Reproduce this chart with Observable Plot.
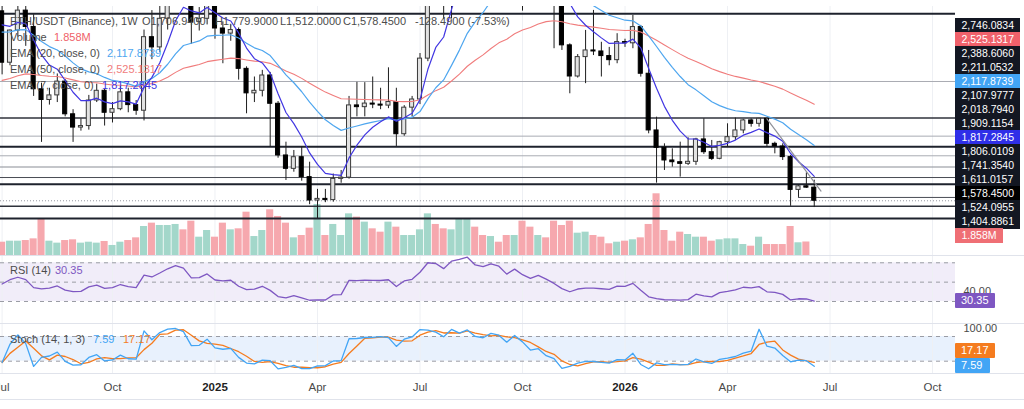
<!DOCTYPE html>
<html>
<head>
<meta charset="utf-8">
<script src="https://cdn.jsdelivr.net/npm/d3@7"></script>
<script src="https://cdn.jsdelivr.net/npm/@observablehq/plot@0.6"></script>
<style>
  html, body { margin: 0; padding: 0; background: #fff; }
  #chart { position: relative; width: 1024px; height: 409px; overflow: hidden; background: #fff;
           font-family: "Liberation Sans", Arial, sans-serif; }
  #chart svg { position: absolute; }
  .lg { position: absolute; font-size: 11px; line-height: 13px; white-space: pre; color: #4c4c4c; }
  .sep { position: absolute; left: 0; width: 1024px; height: 1px; background: #e0e3eb; }
  .vbox { position: absolute; left: 955px; height: 15px; line-height: 15px; font-size: 11px; color: #fff;
          padding-left: 6px; box-sizing: border-box; border-radius: 1px; }
</style>
</head>
<body>
<div id="chart"></div>
<script>
// ---------------- DATA ----------------
const weeks = [
  "2024-07-01","2024-07-08","2024-07-15","2024-07-22","2024-07-29","2024-08-05","2024-08-12","2024-08-19","2024-08-26","2024-09-02",
  "2024-09-09","2024-09-16","2024-09-23","2024-09-30","2024-10-07","2024-10-14","2024-10-21","2024-10-28","2024-11-04","2024-11-11",
  "2024-11-18","2024-11-25","2024-12-02","2024-12-09","2024-12-16","2024-12-23","2024-12-30","2025-01-06","2025-01-13","2025-01-20",
  "2025-01-27","2025-02-03","2025-02-10","2025-02-17","2025-02-24","2025-03-03","2025-03-10","2025-03-17","2025-03-24","2025-03-31",
  "2025-04-07","2025-04-14","2025-04-21","2025-04-28","2025-05-05","2025-05-12","2025-05-19","2025-05-26","2025-06-02","2025-06-09",
  "2025-06-16","2025-06-23","2025-06-30","2025-07-07","2025-07-14","2025-07-21","2025-07-28","2025-08-04","2025-08-11","2025-08-18",
  "2025-08-25","2025-09-01","2025-09-08","2025-09-15","2025-09-22","2025-09-29","2025-10-06","2025-10-13","2025-10-20","2025-10-27",
  "2025-11-03","2025-11-10","2025-11-17","2025-11-24","2025-12-01","2025-12-08","2025-12-15","2025-12-22","2025-12-29","2026-01-05",
  "2026-01-12","2026-01-19","2026-01-26","2026-02-02","2026-02-09","2026-02-16","2026-02-23","2026-03-02","2026-03-09","2026-03-16",
  "2026-03-23","2026-03-30","2026-04-06","2026-04-13","2026-04-20","2026-04-27","2026-05-04","2026-05-11","2026-05-18","2026-05-25",
  "2026-06-01","2026-06-08","2026-06-15","2026-06-22"
];
const open = [
  3433,2930,3245,3440,3280,2670,2565,2610,2745,2425,
  2295,2310,2560,2655,2440,2475,2640,2515,2460,3180,
  3080,3360,3705,3990,3870,3330,3360,3630,3265,3215,
  3250,2870,2630,2655,2805,2528,2022,1891,2005,1810,
  1581,1597,1585,1793,1805,2512,2495,2530,2520,2510,
  2545,2230,2490,2570,2970,3755,3720,3490,4260,4470,
  4780,4390,4300,4600,4480,4030,4510,4150,3890,4160,
  3890,3560,3100,2795,2985,3050,3040,2995,2955,3132,
  3120,3279,2822,2267,2097,1973,1956,1940,1960,2179,
  2054,1989,2152,2201,2267,2365,2332,2381,2136,2110,
  2006,1685,1720,1706.94
];
const high = [
  3520,3250,3560,3560,3400,2730,2680,2820,2765,2470,
  2380,2610,2720,2670,2540,2700,2680,2560,3250,3440,
  3500,3740,4000,4010,4105,3470,3745,3700,3330,3300,
  3270,2890,2790,2855,2835,2550,2152,2071,2104,1956,
  1690,1690,1840,1875,2600,2738,2735,2790,2680,2880,
  2680,2510,2600,3020,3860,3940,3940,4330,4790,4890,
  4955,4490,4770,4770,4480,4590,4755,4290,4250,4250,
  3920,3650,3115,3010,3246,3442,3130,3080,3214,3160,
  3393,3295,3050,2397,2136,2087,2152,2195,2190,2381,
  2169,2160,2332,2388.606,2375,2380,2385,2386,2152,2136,
  2022,1734,1852,1779.9
];
const low = [
  2811,2900,3180,3090,2600,2150,2515,2540,2400,2150,
  2260,2270,2540,2310,2340,2460,2440,2415,2360,2960,
  3030,3250,3500,3520,3110,3240,3300,3160,2920,3140,
  2760,2430,2540,2595,2104,1995,1777,1858,1770,1540,
  1404.886,1560,1565,1750,1790,2400,2400,2480,2470,2480,
  2110,2210,2400,2520,2940,3500,3355,3360,4190,4060,
  4260,4200,4290,4450,3815,4000,3435,3680,3700,3680,
  3067,3050,2626,2780,2725,3000,2790,2900,2920,3080,
  3067,2789,2234,1751,1875,1908,1810,1924,1925,2032,
  1973,1980,2103,2169,2234,2299,2299,2103,2038,1973,
  1524.096,1611.016,1700,1512
];
const close = [
  2930,3245,3440,3280,2670,2565,2610,2745,2425,2295,
  2310,2560,2655,2440,2475,2640,2515,2460,3180,3080,
  3360,3705,3990,3870,3330,3360,3630,3265,3215,3250,
  2870,2630,2655,2805,2528,2022,1891,2005,1810,1581,
  1597,1585,1793,1805,2512,2495,2530,2520,2510,2545,
  2230,2490,2570,2970,3755,3720,3490,4260,4470,4780,
  4390,4300,4600,4480,4030,4510,4150,3890,4160,3890,
  3560,3100,2795,2985,3050,3040,2995,2955,3132,3120,
  3279,2822,2267,2097,1973,1956,1940,1960,2179,2054,
  1989,2152,2201,2267,2365,2332,2381,2136,2110,2006,
  1685,1720,1706.94,1578.45
];
// weekly volume, millions
const volume = [
  1.83,1.97,1.97,2.06,2.29,5.05,1.97,1.70,2.06,2.16,
  1.70,1.83,1.70,1.93,1.38,1.83,2.06,2.43,3.99,4.45,
  4.13,4.13,4.27,3.53,4.72,2.52,3.44,2.52,4.45,3.53,
  3.67,5.96,2.61,3.44,6.29,5.37,4.45,2.43,2.75,3.76,
  7.02,2.75,4.27,2.75,5.73,5.28,4.59,3.67,3.21,4.59,
  3.90,2.75,2.75,3.53,5.73,4.27,3.67,3.53,5.05,5.05,
  3.90,2.75,2.61,1.83,2.75,2.75,4.72,3.90,2.75,2.43,
  4.72,4.13,4.72,3.07,3.21,2.75,2.52,1.61,1.83,1.97,
  2.16,2.43,4.27,8.49,3.44,1.97,3.21,2.89,2.52,2.52,
  1.97,2.16,2.29,2.29,1.51,1.28,2.52,1.51,1.51,1.51,
  3.99,1.75,1.858,null
];
// horizontal levels drawn on the chart
const levelPrices = [3409.7, 2746.0834, 2388.6060, 2211.0532, 2107.9777, 2018.7940, 1909.1154, 1806.0109, 1741.3540, 1524.0955, 1404.8861];
const partialLevel = {price: 1611.0157, from: "2026-06-08"};
const currentPrice = 1578.45;
// trend line (two anchor points)
const trendPoints = [{date: "2026-05-11", price: 2381}, {date: "2026-06-28", price: 1673}];
// indicator seeds read at the first bar
const ema7Seed = 3300, ema20Seed = 3230, ema50Seed = 2757;
const rsiSeedGain = 125, rsiSeedLoss = 135;
// right-hand price tags, top to bottom
const tagTexts = ["2,746.0834","2,525.1317","2,388.6060","2,211.0532","2,117.8739","2,107.9777","2,018.7940","1,909.1154",
                  "1,817.2845","1,806.0109","1,741.3540","1,611.0157","1,578.4500","1,524.0955","1,404.8861","1.858M"];
// time axis
const tickWeeks = ["2024-07-01","2024-10-07","2025-01-06","2025-04-07","2025-07-07","2025-10-06","2026-01-05","2026-04-06","2026-07-06","2026-10-05"];
const tickLabels = ["Jul","Oct","2025","Apr","Jul","Oct","2026","Apr","Jul","Oct"];
// legend values
const legendOHLC = ["O1,706.9400","H1,779.9000","L1,512.0000","C1,578.4500","-128.4900 (-7.53%)"];
const rsiValue = 30.35, stochK = 7.59, stochD = 17.17;

// ---------------- STYLE ----------------
const tagColors = ["#131722","#f0616b","#131722","#131722","#42a5f5","#131722","#131722","#131722",
                   "#2f2fe8","#131722","#131722","#131722","#000000","#131722","#131722","#ef6f75"];
const levelStyle = ["thick","thin","medium","thin","thick","thin","mid","dark","thick","medium","thick"];
const styleMap = {
  thick: {stroke: "#1e222d", strokeWidth: 2},
  medium: {stroke: "#2f323b", strokeWidth: 1.5},
  dark: {stroke: "#4a4d55", strokeWidth: 1},
  mid: {stroke: "#8a8d95", strokeWidth: 1.2},
  thin: {stroke: "#a9acb3", strokeWidth: 1}
};
const C_EMA7 = "#4136e2", C_EMA20 = "#4ea6ef", C_EMA50 = "#f07c7c";

// ---------------- BUILD ----------------
const DAY = 864e5;
const parse = s => new Date(s + "T00:00:00Z");
const shift = (d, days) => new Date(+d + days * DAY);
const bars = weeks.map((w, i) => ({
  date: parse(w), open: open[i], high: high[i], low: low[i], close: close[i],
  volume: volume[i], up: close[i] >= open[i]
}));

// indicators computed from the candles
function emaOf(vals, n, seed) {
  const a = 2 / (n + 1); let e = seed;
  return vals.map((v, i) => (e = i === 0 ? seed : a * v + (1 - a) * e));
}
const e7 = emaOf(close, 7, ema7Seed), e20 = emaOf(close, 20, ema20Seed), e50 = emaOf(close, 50, ema50Seed);
let ag = rsiSeedGain, al = rsiSeedLoss;
const rsi = close.map((c, i) => {
  if (i > 0) {
    const ch = c - close[i - 1];
    ag = (ag * 13 + Math.max(ch, 0)) / 14;
    al = (al * 13 + Math.max(-ch, 0)) / 14;
  }
  return 100 - 100 / (1 + ag / al);
});
const kArr = close.map((c, i) => {
  const s = Math.max(0, i - 13);
  const hh = d3.max(high.slice(s, i + 1)), ll = d3.min(low.slice(s, i + 1));
  return 100 * (c - ll) / (hh - ll);
});
const dArr = kArr.map((k, i) => d3.mean(kArr.slice(Math.max(0, i - 2), i + 1)));
bars.forEach((b, i) => { b.e7 = e7[i]; b.e20 = e20[i]; b.e50 = e50[i]; b.rsi = rsi[i]; b.k = kArr[i]; b.d = dArr[i]; });

// layout constants (pixel geometry of the reference)
const W = 1024, RIGHT = 69, PX_PER_WEEK = 7.885, FIRST_BAR_X = 1.6;
const T0 = +parse(weeks[0]);
const xDomain = [new Date(T0 - (FIRST_BAR_X / PX_PER_WEEK) * 7 * DAY),
                 new Date(T0 + ((W - RIGHT - FIRST_BAR_X) / PX_PER_WEEK) * 7 * DAY)];
const xScale = {type: "utc", domain: xDomain, axis: null};
const baseStyle = {background: "transparent", fontFamily: "'Liberation Sans', Arial, sans-serif", fontSize: "11px", color: "#4a4a4a", overflow: "visible"};
const tickDates = tickWeeks.map(parse);
const gridMark = () => Plot.ruleX(tickDates, {stroke: "#eef0f4"});
const half = 3.5;

const chart = document.getElementById("chart");
function put(node, left, top) { node.style.left = left + "px"; node.style.top = top + "px"; chart.appendChild(node); return node; }

// volume (below candles)
const volPlot = Plot.plot({
  width: W, height: 256, marginTop: 6, marginBottom: 1, marginLeft: 0, marginRight: RIGHT,
  style: baseStyle, x: xScale, y: {domain: [0, 34.26], axis: null}, color: {type: "identity"},
  marks: [
    gridMark(),
    Plot.rectY(bars.filter(d => d.volume != null), {
      x1: d => shift(d.date, -half), x2: d => shift(d.date, half), y: "volume",
      fill: d => d.up ? "#a3d7ca" : "#f6a8ae", insetLeft: 0.4, insetRight: 0.4
    })
  ]
});
put(volPlot, 0, 0);

// price panel
const levelRows = levelPrices.map((p, i) => ({price: p, style: levelStyle[i]}));
const levelMarks = Object.keys(styleMap).map(k =>
  Plot.ruleY(levelRows.filter(d => d.style === k), {y: "price", ...styleMap[k]}));
const trend = trendPoints.map(d => ({date: parse(d.date), price: d.price}));
const pricePlot = Plot.plot({
  width: W, height: 256, marginTop: 6, marginBottom: 1, marginLeft: 0, marginRight: RIGHT,
  style: baseStyle, x: xScale, y: {domain: [1042.7, 3480.3], axis: null}, color: {type: "identity"},
  marks: [
    ...levelMarks,
    Plot.ruleY([partialLevel], {y: "price", x1: d => parse(d.from), x2: () => xDomain[1], stroke: "#4a4d55", strokeWidth: 1}),
    Plot.ruleY([currentPrice], {stroke: "#9598a1", strokeDasharray: "1,2"}),
    Plot.ruleX(bars, {x: "date", y1: "low", y2: "high", stroke: "#1e1e1e", strokeWidth: 1, clip: true}),
    Plot.rect(bars, {
      x1: d => shift(d.date, -half), x2: d => shift(d.date, half), y1: "open", y2: "close",
      fill: d => d.up ? "#e2e2e2" : "#000000", stroke: d => d.up ? "#3a3a3a" : "#000000", strokeWidth: 1,
      insetLeft: 1.9, insetRight: 1.9, clip: true
    }),
    Plot.lineY(bars, {x: "date", y: "e50", stroke: C_EMA50, strokeWidth: 1.1, clip: true}),
    Plot.lineY(bars, {x: "date", y: "e20", stroke: C_EMA20, strokeWidth: 1.2, clip: true}),
    Plot.lineY(bars, {x: "date", y: "e7", stroke: C_EMA7, strokeWidth: 1.2, clip: true}),
    Plot.line(trend, {x: "date", y: "price", stroke: "#8f9199", strokeWidth: 1.2, clip: true})
  ]
});
put(pricePlot, 0, 0);

// stacked price tags on the right
const tags = tagTexts.map((t, i) => ({text: t, bg: tagColors[i], vol: t.endsWith("M")}));
const tagPlot = Plot.plot({
  width: RIGHT, height: 256, margin: 0, style: {...baseStyle, fontSize: "10.5px"},
  x: {domain: [0, RIGHT], axis: null}, y: {type: "point", domain: tagTexts, range: [12, 247], axis: null},
  color: {type: "identity"},
  marks: [
    Plot.ruleY(tags, {y: "text", x1: 0, x2: d => d.vol ? 48 : 65, stroke: "bg", strokeWidth: 15}),
    Plot.text(tags, {y: "text", x: 0, dx: 6, text: "text", textAnchor: "start", fill: "#ffffff"})
  ]
});
put(tagPlot, W - RIGHT, 0);

// RSI panel
const rsiPlot = Plot.plot({
  width: W, height: 67, marginTop: 0, marginBottom: 0, marginLeft: 0, marginRight: RIGHT,
  style: baseStyle, x: xScale,
  y: {domain: [7.26, 76.5], axis: "right", ticks: [40], tickSize: 0, tickPadding: 8, tickFormat: d => d.toFixed(2), label: null},
  marks: [
    Plot.rect([{lo: 30, hi: 70}], {x1: () => xDomain[0], x2: () => xDomain[1], y1: "lo", y2: "hi", fill: "#f1edf9"}),
    gridMark(),
    Plot.ruleY([70, 50, 30], {stroke: "#9a9ca4", strokeDasharray: "4,4"}),
    Plot.lineY(bars, {x: "date", y: "rsi", stroke: "#7e57c2", strokeWidth: 1.3})
  ]
});
put(rsiPlot, 0, 256);

// Stochastic panel
const stPlot = Plot.plot({
  width: W, height: 50, marginTop: 0, marginBottom: 0, marginLeft: 0, marginRight: RIGHT,
  style: baseStyle, x: xScale,
  y: {domain: [-9.9, 111.6], axis: "right", ticks: [100], tickSize: 0, tickPadding: 8, tickFormat: d => d.toFixed(2), label: null},
  marks: [
    Plot.rect([{lo: 20, hi: 80}], {x1: () => xDomain[0], x2: () => xDomain[1], y1: "lo", y2: "hi", fill: "#e8f1fd"}),
    gridMark(),
    Plot.ruleY([80, 20], {stroke: "#9a9ca4", strokeDasharray: "4,4"}),
    Plot.lineY(bars, {x: "date", y: "d", stroke: "#f57c1f", strokeWidth: 1.3}),
    Plot.lineY(bars, {x: "date", y: "k", stroke: "#42a5f5", strokeWidth: 1.3})
  ]
});
put(stPlot, 0, 323);

// time axis
const tickRows = tickDates.map((d, i) => ({date: d, label: tickLabels[i], year: /^\d{4}$/.test(tickLabels[i])}));
const axisPlot = Plot.plot({
  width: W, height: 28, margin: 0, marginRight: RIGHT, style: {...baseStyle, fontSize: "11.5px"}, x: xScale,
  marks: [
    Plot.text(tickRows.filter(d => !d.year), {x: "date", text: "label", frameAnchor: "middle", fill: "#4a4a4a"}),
    Plot.text(tickRows.filter(d => d.year), {x: "date", text: "label", frameAnchor: "middle", fill: "#1f1f1f", fontWeight: "bold"})
  ]
});
put(axisPlot, 0, 373);

// separators
[255, 323, 373, 399].forEach(t => { const s = document.createElement("div"); s.className = "sep"; put(s, 0, t); });

// value boxes for RSI / Stoch
function vbox(top, text, bg, width) {
  const b = document.createElement("div"); b.className = "vbox";
  b.textContent = text; b.style.background = bg; b.style.width = width + "px";
  put(b, 955, Math.round(top - 7.5));
}
const yR = rsiPlot.scale("y"), yS = stPlot.scale("y");
vbox(256 + yR.apply(rsiValue), rsiValue.toFixed(2), "#7e57c2", 40);
const kTop = 323 + yS.apply(stochK);
const dTop = Math.min(323 + yS.apply(stochD), kTop - 15.5);
vbox(kTop, stochK.toFixed(2), "#42a5f5", 35);
vbox(dTop, stochD.toFixed(2), "#f57c1f", 40);

// legends
function lg(left, cy, text, color, weight) {
  const n = document.createElement("div"); n.className = "lg"; n.textContent = text;
  if (color) n.style.color = color; if (weight) n.style.fontWeight = weight;
  put(n, left, Math.round(cy - 6.5));
}
lg(10, 21.5, "ETH/USDT (Binance), 1W");
[142, 215, 280, 343, 415].forEach((x, i) => lg(x, 21.5, legendOHLC[i]));
lg(10, 37, "Volume"); lg(54, 37, tagTexts[15], "#ef5f69");
lg(10, 53, "EMA (20, close, 0)"); lg(107, 53, tagTexts[4], C_EMA20);
lg(10, 69, "EMA (50, close, 0)"); lg(107, 69, tagTexts[1], C_EMA50);
lg(10, 85, "EMA (7, close, 0)"); lg(102, 85, tagTexts[8], C_EMA7);
lg(10, 270, "RSI (14)"); lg(55, 270, rsiValue.toFixed(2), "#7e57c2");
lg(10, 339, "Stoch (14, 1, 3)"); lg(93, 339, stochK.toFixed(2), "#42a5f5"); lg(123, 339, stochD.toFixed(2), "#f57c1f");
</script>
</body>
</html>
